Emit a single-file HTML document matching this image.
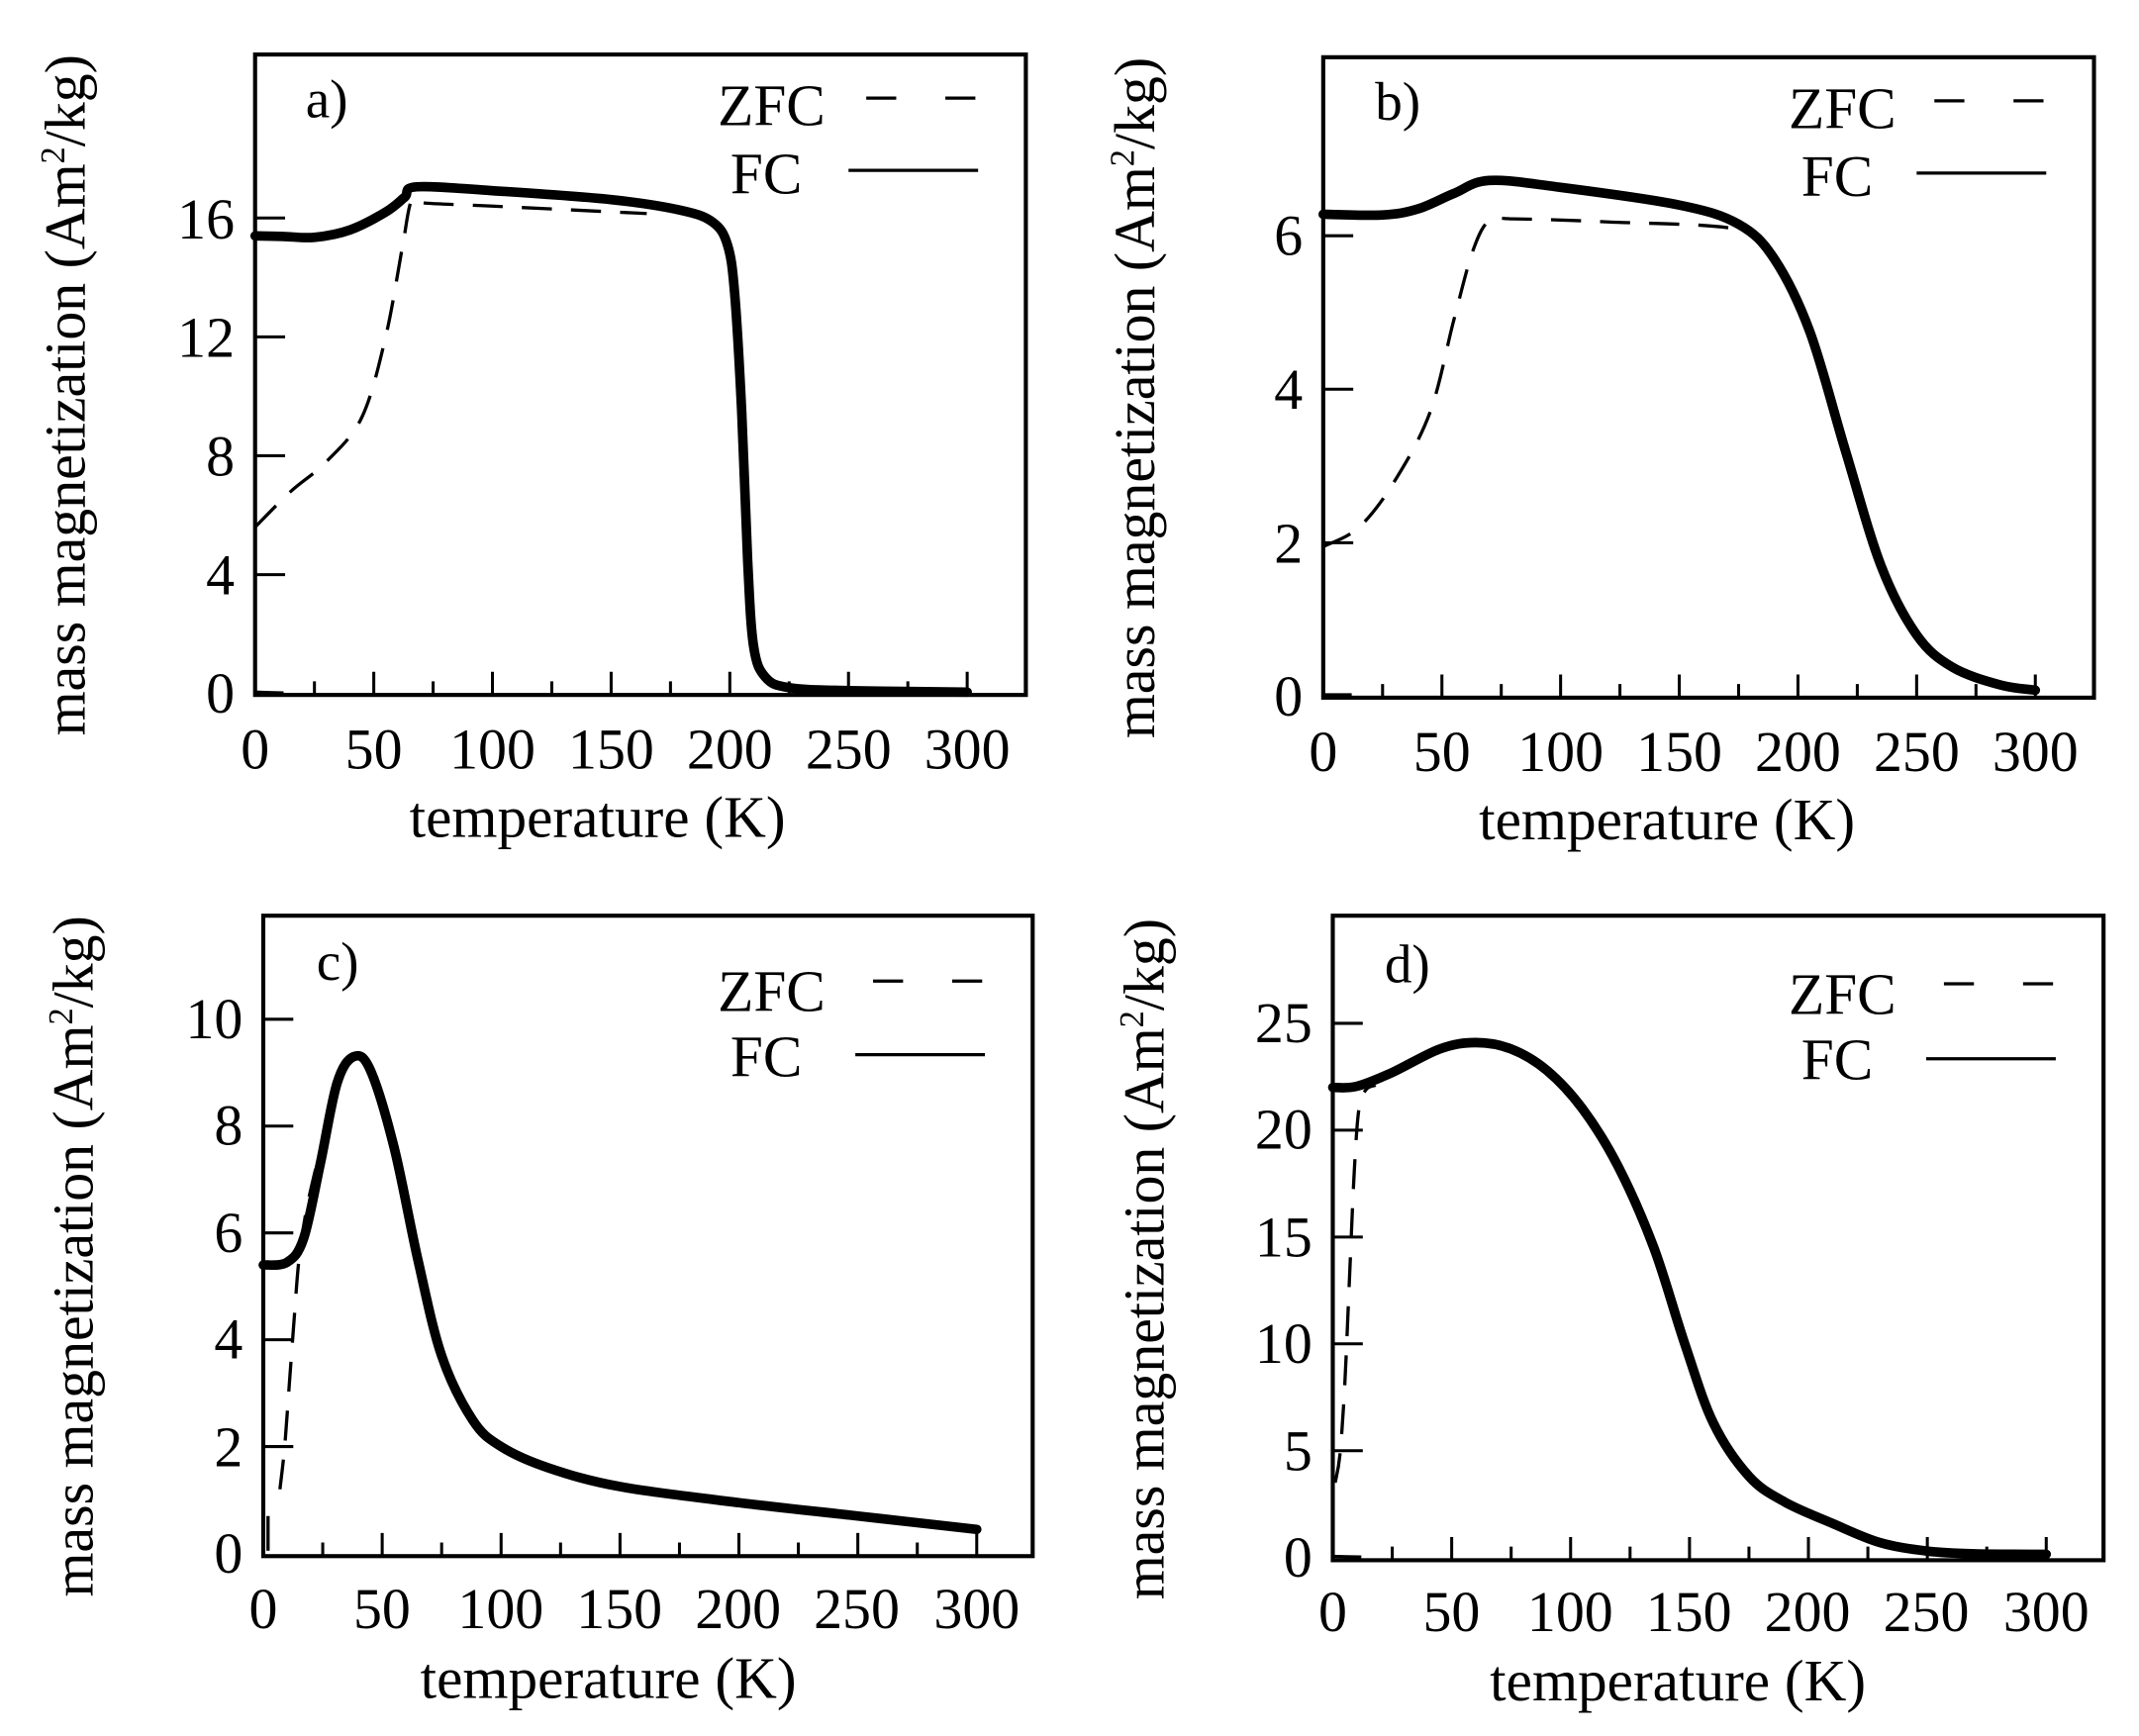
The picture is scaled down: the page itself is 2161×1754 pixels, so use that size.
<!DOCTYPE html>
<html><head><meta charset="utf-8">
<style>
html,body{margin:0;padding:0;background:#fff;}
svg{display:block;}
text{font-family:"Liberation Serif",serif;fill:#000;}
</style></head>
<body>
<svg id="s" width="2161" height="1754" viewBox="0 0 1568 1274" preserveAspectRatio="none" xmlns="http://www.w3.org/2000/svg">
<g id="g"></g>
<!-- Panel a -->
<text x="224" y="86" font-size="40">a)</text>
<text x="605" y="92" font-size="43" text-anchor="end">ZFC</text>
<text x="588" y="142" font-size="43" text-anchor="end">FC</text>
<g font-size="42" text-anchor="end"><text x="172" y="523">0</text><text x="172" y="436">4</text><text x="172" y="349">8</text><text x="172" y="262">12</text><text x="172" y="175">16</text></g>
<g font-size="42" text-anchor="middle"><text x="187" y="564">0</text><text x="274" y="564">50</text><text x="361" y="564">100</text><text x="448" y="564">150</text><text x="535" y="564">200</text><text x="622" y="564">250</text><text x="709" y="564">300</text></g>
<text x="438" y="614" font-size="43" text-anchor="middle">temperature (K)</text>
<text transform="translate(62,290) rotate(-90)" font-size="42" text-anchor="middle">mass magnetization (Am<tspan font-size="25" dy="-15">2</tspan><tspan dy="15">/kg)</tspan></text>
<!-- Panel b -->
<text x="1008" y="88" font-size="40">b)</text>
<text x="1390" y="94" font-size="43" text-anchor="end">ZFC</text>
<text x="1373" y="144" font-size="43" text-anchor="end">FC</text>
<g font-size="42" text-anchor="end"><text x="955" y="525">0</text><text x="955" y="413">2</text><text x="955" y="300">4</text><text x="955" y="187">6</text></g>
<g font-size="42" text-anchor="middle"><text x="970" y="566">0</text><text x="1057" y="566">50</text><text x="1144" y="566">100</text><text x="1231" y="566">150</text><text x="1318" y="566">200</text><text x="1405" y="566">250</text><text x="1492" y="566">300</text></g>
<text x="1222" y="616" font-size="43" text-anchor="middle">temperature (K)</text>
<text transform="translate(846,292) rotate(-90)" font-size="42" text-anchor="middle">mass magnetization (Am<tspan font-size="25" dy="-15">2</tspan><tspan dy="15">/kg)</tspan></text>
<!-- Panel c -->
<text x="232" y="719" font-size="40">c)</text>
<text x="605" y="742" font-size="43" text-anchor="end">ZFC</text>
<text x="588" y="790" font-size="43" text-anchor="end">FC</text>
<g font-size="42" text-anchor="end"><text x="178" y="1154">0</text><text x="178" y="1076">2</text><text x="178" y="997">4</text><text x="178" y="919">6</text><text x="178" y="840">8</text><text x="178" y="762">10</text></g>
<g font-size="42" text-anchor="middle"><text x="193" y="1195">0</text><text x="280" y="1195">50</text><text x="367" y="1195">100</text><text x="454" y="1195">150</text><text x="541" y="1195">200</text><text x="628" y="1195">250</text><text x="716" y="1195">300</text></g>
<text x="446" y="1246" font-size="43" text-anchor="middle">temperature (K)</text>
<text transform="translate(68,922) rotate(-90)" font-size="42" text-anchor="middle">mass magnetization (Am<tspan font-size="25" dy="-15">2</tspan><tspan dy="15">/kg)</tspan></text>
<!-- Panel d -->
<text x="1015" y="721" font-size="40">d)</text>
<text x="1390" y="744" font-size="43" text-anchor="end">ZFC</text>
<text x="1373" y="792" font-size="43" text-anchor="end">FC</text>
<g font-size="42" text-anchor="end"><text x="962" y="1157">0</text><text x="962" y="1079">5</text><text x="962" y="1000">10</text><text x="962" y="922">15</text><text x="962" y="843">20</text><text x="962" y="765">25</text></g>
<g font-size="42" text-anchor="middle"><text x="977" y="1197">0</text><text x="1064" y="1197">50</text><text x="1151" y="1197">100</text><text x="1238" y="1197">150</text><text x="1325" y="1197">200</text><text x="1412" y="1197">250</text><text x="1500" y="1197">300</text></g>
<text x="1230" y="1248" font-size="43" text-anchor="middle">temperature (K)</text>
<text transform="translate(853,924) rotate(-90)" font-size="42" text-anchor="middle">mass magnetization (Am<tspan font-size="25" dy="-15">2</tspan><tspan dy="15">/kg)</tspan></text>
</svg>
<script>
var NS="http://www.w3.org/2000/svg",G=document.getElementById("g");
function el(t,a){var e=document.createElementNS(NS,t);for(var k in a)e.setAttribute(k,a[k]);G.appendChild(e);return e;}
function smooth(p){var d="M"+p[0][0]+","+p[0][1];for(var i=0;i<p.length-1;i++){var p0=p[i-1]||p[i],p1=p[i],p2=p[i+1],p3=p[i+2]||p2;
var c1x=p1[0]+(p2[0]-p0[0])/6,c1y=p1[1]+(p2[1]-p0[1])/6,c2x=p2[0]-(p3[0]-p1[0])/6,c2y=p2[1]-(p3[1]-p1[1])/6;
d+=" C"+c1x+","+c1y+" "+c2x+","+c2y+" "+p2[0]+","+p2[1];}return d;}
function panel(P){
 var sx=(P.x300-P.x0)/300, sy=(P.y0-P.ytop)/P.vtop;
 function m(pts){return pts.map(function(q){return [P.x0+q[0]*sx,P.y0-q[1]*sy];});}
 el("rect",{x:P.L,y:P.T,width:P.R-P.L,height:P.B-P.T,fill:"none",stroke:"#000","stroke-width":3});
 for(var t=25;t<=300;t+=25){var x=P.x0+t*sx,len=(t%50==0)?17:10;el("line",{x1:x,y1:P.B,x2:x,y2:P.B-len,stroke:"#000","stroke-width":2.2});}
 P.yt.forEach(function(v){var y=P.y0-v*sy;el("line",{x1:P.L,y1:y,x2:P.L+22,y2:y,stroke:"#000","stroke-width":2.2});});
 el("path",{d:smooth(m(P.zfc)),fill:"none",stroke:"#000","stroke-width":2.4,"stroke-dasharray":"22 14"});
 if(P.z0)el("path",{d:smooth(m(P.z0)),fill:"none",stroke:"#000","stroke-width":2.4});
 el("path",{d:smooth(m(P.fc)),fill:"none",stroke:"#000","stroke-width":7,"stroke-linejoin":"round","stroke-linecap":"round"});
 var lx=P.R-117;
 el("line",{x1:lx,y1:P.ly1,x2:lx+80,y2:P.ly1,stroke:"#000","stroke-width":2.4,"stroke-dasharray":"22 36"});
 el("line",{x1:lx-13,y1:P.ly2,x2:lx+82,y2:P.ly2,stroke:"#000","stroke-width":2.4});
}
panel({L:187,R:752,T:40,B:510,x0:187,x300:709,y0:509,ytop:160,vtop:16,yt:[4,8,12,16],ly1:72,ly2:125,
 fc:[[0,15.4],[12,15.38],[25,15.35],[40,15.6],[55,16.2],[63,16.7],[68,17.05],[100,16.92],[150,16.62],[180,16.25],[193,15.85],[199,15.1],[202,13.5],[205,9.5],[207.5,4.5],[210,1.6],[215,0.55],[225,0.2],[250,0.1],[300,0.05]],
 zfc:[[0,5.6],[15,6.8],[30,7.8],[45,9.3],[55,12],[62,15],[66,16.6],[72,16.5],[100,16.4],[165,16.15]],
 z0:[[0,0.05],[12,0.02]]});
panel({L:970,R:1535,T:42,B:512,x0:970,x300:1492,y0:511,ytop:173,vtop:6,yt:[2,4,6],ly1:74,ly2:127,
 fc:[[0,6.28],[25,6.27],[40,6.35],[55,6.55],[70,6.72],[100,6.63],[150,6.4],[175,6.15],[190,5.7],[205,4.75],[220,3.2],[235,1.7],[250,0.8],[265,0.38],[285,0.15],[300,0.08]],
 zfc:[[0,1.95],[15,2.2],[30,2.8],[45,3.7],[55,4.9],[63,5.8],[70,6.2],[80,6.22],[120,6.18],[175,6.08],[190,5.7]],
 z0:[[0,0.02],[12,0.02]]});
panel({L:193,R:757,T:672,B:1142,x0:193,x300:716,y0:1140,ytop:748,vtop:10,yt:[2,4,6,8,10],ly1:720,ly2:774,
 fc:[[0,5.4],[10,5.45],[17,5.9],[24,7.3],[31,8.8],[38,9.3],[45,9.05],[55,7.6],[65,5.5],[75,3.7],[88,2.5],[100,2.0],[120,1.6],[150,1.25],[200,0.95],[250,0.7],[300,0.45]],
 zfc:[[7,1.2],[9,2.0],[11,3.2],[13,4.4],[15,5.5],[18,6.4],[22,7.2]],
 z0:[[2,0.05],[2,0.7]]});
panel({L:977,R:1542,T:672,B:1145,x0:977,x300:1500,y0:1143,ytop:751,vtop:25,yt:[5,10,15,20,25],ly1:722,ly2:777,
 fc:[[0,22],[10,22.05],[25,22.7],[45,23.8],[60,24.1],[75,23.8],[90,22.8],[105,21],[120,18.3],[135,14.5],[148,10],[160,6.3],[175,3.8],[190,2.6],[210,1.6],[230,0.7],[250,0.3],[270,0.17],[300,0.15]],
 zfc:[[1,3.5],[3,4.8],[5,8],[7,13],[9,18],[11,21],[14,21.9],[18,22.1]],
 z0:[[0,0.05],[12,0.02]]});
</script>
</body></html>
